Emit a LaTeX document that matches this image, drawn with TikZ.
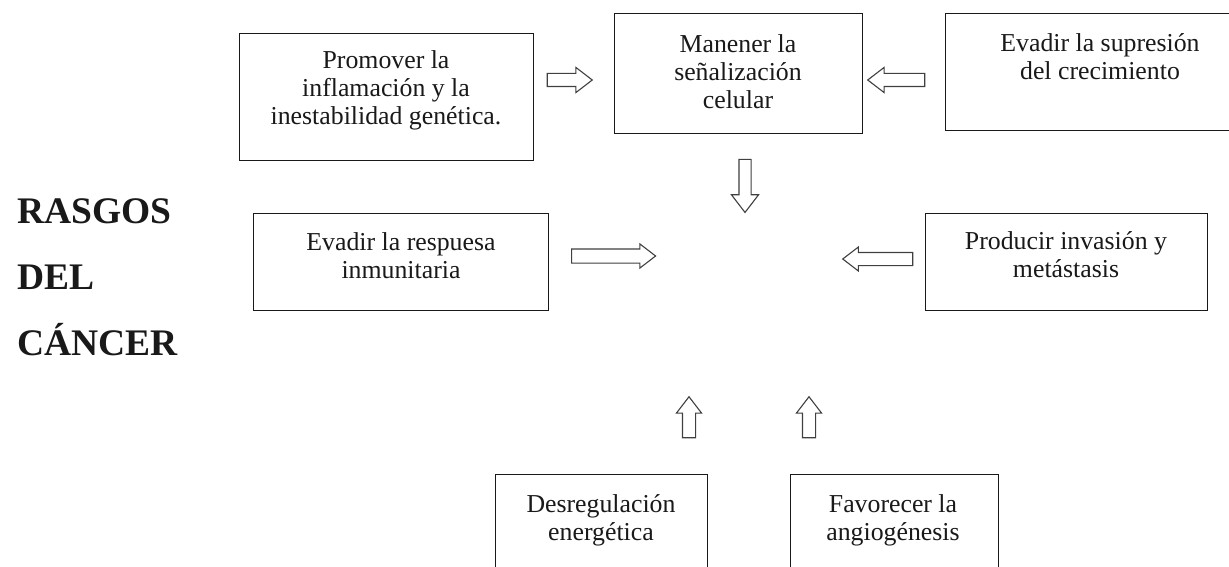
\documentclass[tikz,border=0pt]{standalone}
\usepackage{fontspec}
\setmainfont{Liberation Serif}
\usetikzlibrary{shapes.arrows}
\begin{document}
\begin{tikzpicture}[x=1pt,y=-1pt,
  box/.style={draw=black!90, line width=1.3pt, rectangle, inner sep=0pt, anchor=north west},
  txt/.style={align=center, inner sep=0pt, anchor=north, text=black!90,
    font=\fontsize{25.8}{28.3}\selectfont},
  blk/.style={draw=black!75, line width=1.1pt, single arrow, single arrow tip angle=75, fill=white},
  ttlstyle/.style={align=left, inner sep=0pt, anchor=north west, text=black!90,
    font=\fontsize{37.5}{66}\selectfont\bfseries}]
\useasboundingbox (0,0) rectangle (1229,567);
\clip (0,0) rectangle (1229,567);
\fill[white] (0,0) rectangle (1229,567);

% title
\node[ttlstyle] (ttl) at (17,177) {\strut RASGOS\\DEL\\CÁNCER};

% boxes
\node[box, minimum width=294pt, minimum height=127pt] (b1) at (239,33) {};
\node[box, minimum width=248pt, minimum height=120pt] (b2) at (614,13) {};
\node[box, minimum width=310pt, minimum height=117pt] (b3) at (945,13) {};
\node[box, minimum width=295pt, minimum height=97pt] (b4) at (253,213) {};
\node[box, minimum width=282pt, minimum height=97pt] (b5) at (925,213) {};
\node[box, minimum width=212pt, minimum height=120pt] (b6) at (495,474) {};
\node[box, minimum width=208pt, minimum height=120pt] (b7) at (790,474) {};

% texts
\node[txt] (t1) at (386,48) {\strut Promover la\\inflamación y la\\inestabilidad genética.};
\node[txt] (t2) at (738,32) {\strut Manener la\\señalización\\celular};
\node[txt] (t3) at (1100,31) {\strut Evadir la supresión\\del crecimiento};
\node[txt] (t4) at (401,230) {\strut Evadir la respuesa\\inmunitaria};
\node[txt] (t5) at (1066,229) {\strut Producir invasión y\\metástasis};
\node[txt] (t6) at (601,492) {\strut Desregulación\\energética};
\node[txt] (t7) at (893,492) {\strut Favorecer la\\angiogénesis};

% block arrows
\node[blk, inner sep=6pt, minimum height=45pt, minimum width=24pt, single arrow head extend=6pt] (aA) at (565.5,80) {};
\node[blk, inner sep=6pt, minimum height=57pt, minimum width=24pt, single arrow head extend=6pt, shape border rotate=180] (aB) at (900.5,80) {};
\node[blk, inner sep=5.5pt, minimum height=53pt, minimum width=26pt, single arrow head extend=7.5pt, shape border rotate=270] (aC) at (745,182) {};
\node[blk, inner sep=6.5pt, minimum height=84pt, minimum width=23pt, single arrow head extend=5pt, shape border rotate=0] (aD) at (609,256) {};
\node[blk, inner sep=6pt, minimum height=70pt, minimum width=23pt, single arrow head extend=5.5pt, shape border rotate=180] (aE) at (882,259) {};
\node[blk, inner sep=6pt, minimum height=41pt, minimum width=24pt, single arrow head extend=6pt, shape border rotate=90] (aF) at (689,421.5) {};
\node[blk, inner sep=6pt, minimum height=41pt, minimum width=24pt, single arrow head extend=6pt, shape border rotate=90] (aG) at (809,421.5) {};
\end{tikzpicture}
\end{document}
